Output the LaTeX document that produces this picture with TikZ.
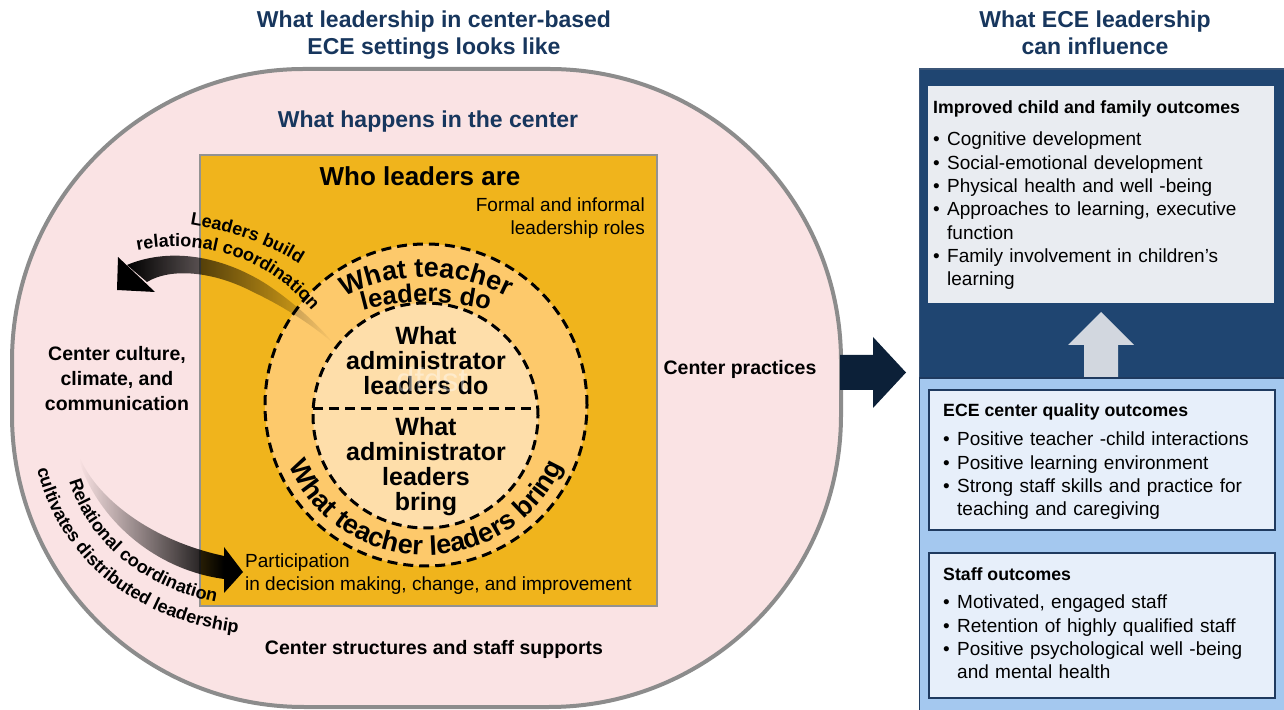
\documentclass[tikz,border=0pt]{standalone}
\usepackage{fontspec}
\setmainfont{Liberation Sans}
\usetikzlibrary{positioning,decorations.text,fadings}

\definecolor{titlenavy}{HTML}{17365D}
\definecolor{pinkbg}{HTML}{FAE3E4}
\definecolor{rimgray}{HTML}{8C8C8C}
\definecolor{gold}{HTML}{F0B41C}
\definecolor{boxedge}{HTML}{929292}
\definecolor{ringout}{HTML}{FDC96B}
\definecolor{ringin}{HTML}{FEDEAA}
\definecolor{panelnavy}{HTML}{1F4571}
\definecolor{panelblue}{HTML}{A4C8EF}
\definecolor{panelline}{HTML}{3B5577}
\definecolor{boxgray}{HTML}{E9ECF1}
\definecolor{boxblue}{HTML}{E7EFFA}
\definecolor{cardline}{HTML}{1F3A5F}
\definecolor{uparrow}{HTML}{D2D7DF}
\definecolor{darknavy}{HTML}{0C2038}

\newcommand{\fsz}[1]{\fontsize{#1}{#1}\selectfont}
\newcommand{\bitem}[1]{\hangindent=14pt\hangafter=1\noindent\makebox[14pt][l]{\textbullet}#1\par}

\begin{document}
\begin{tikzpicture}[x=1pt, y=1pt,
    ttl/.style = {font=\bfseries\fontsize{23}{27}\selectfont, text=titlenavy, align=center, inner sep=0},
    bold/.style = {font=\bfseries\fontsize{19.5}{25}\selectfont, align=center, inner sep=0},
    plain/.style = {font=\fontsize{19}{22.5}\selectfont, inner sep=0},
    big/.style = {font=\bfseries\fontsize{25}{25}\selectfont, align=center, inner sep=0},
    head/.style = {font=\bfseries\fontsize{17.7}{20}\selectfont, inner sep=0, anchor=base west},
    list/.style = {font=\fontsize{19}{23.3}\selectfont, text width=330pt, align=left, inner sep=0},
    ring/.style = {draw=black, line width=3pt, dash pattern=on 10pt off 6pt},
    card/.style = {draw=cardline, line width=1.5pt, fill=boxblue}]

    \fill[white] (0,0) rectangle (1284,709);
    \useasboundingbox (0,0) rectangle (1284,709);

    % titles
    \node[ttl] (lefttitle)  at (434,673.5) {What leadership in center-based\\ECE settings looks like};
    \node[ttl] (righttitle) at (1095,676)  {What ECE leadership\\can influence};

    % the center
    \draw[draw=rimgray, line width=4pt, fill=pinkbg, rounded corners=292pt] (12,2) rectangle (841,640);
    \draw[draw=boxedge, line width=1.5pt, fill=gold] (200,103) rectangle (657,554);
    \node[ring, fill=ringout, circle, minimum size=322pt, inner sep=0] (teachring) at (426,304) {};
    \node[ring, fill=ringin, circle, minimum size=225pt, inner sep=0] (adminring) at (425.5,293.5) {};
    \draw[ring] (313.2,300) -- (537.8,300);

    \node[ttl, font=\bfseries\fsz{23}, anchor=base] (happens) at (428,581) {What happens in the center};
    \node[big, font=\bfseries\fsz{26}, anchor=base] (who) at (420,523) {Who leaders are};
    \node[plain, align=right, anchor=north east] (roles) at (645,511) {Formal and informal\\leadership roles};
    \node[big, anchor=north] (admindo) at (426,383) {What\\administrator\\leaders do};
    \node[big, anchor=north] (adminbring) at (426,292) {What\\administrator\\leaders\\bring};
    \node[font=\fsz{33}, text=white, text opacity=0.4, inner sep=0, anchor=base] (stray) at (432,317) {dfdst};

    \path[decorate, decoration={text along path, text align=center,
        text={|\bfseries\fsz{27}|What teacher}}]
        (426,252) ++(145:180) arc[start angle=145, end angle=35, radius=180];
    \path[decorate, decoration={text along path, text align=center,
        text={|\bfseries\fsz{25.5}|leaders do}}]
        (426,167) ++(130:240) arc[start angle=130, end angle=50, radius=240];
    \path[decorate, decoration={text along path, text align=center,
        text={|\bfseries\fsz{27}|What teacher leaders bring}}]
        (426,304) ++(192:150) arc[start angle=192, end angle=348, radius=150];

    \node[bold, anchor=base] (practices) at (740,334) {Center practices};
    \node[bold, anchor=north] (culture) at (117,363) {Center culture,\\climate, and\\communication};
    \node[bold, anchor=base] (structures) at (434,54) {Center structures and staff supports};
    \node[plain, align=left, anchor=north west] (participation) at (245,155)
        {Participation\\in decision making, change, and improvement};

    % curved arrows
    \fill[black, path fading=east] (127,444) .. controls (165,460) and (215,456) .. (263,427)
        .. controls (290,410) and (318,385) .. (334,365)
        .. controls (315,382) and (285,402) .. (253,417)
        .. controls (215,437) and (172,442) .. (147,427) -- cycle;
    \fill[black] (118,452) -- (117,419) -- (155,417) -- cycle;
    \path[decorate, decoration={text along path, text align=center,
        text={|\bfseries\fsz{18}|Leaders build}}]
        (186,485) .. controls (230,478) and (268,466) .. (303,443);
    \path[decorate, decoration={text along path, text align=center,
        text={|\bfseries\fsz{18}|relational coordination}}]
        (134,458) .. controls (200,472) and (266,454) .. (314,396);

    \fill[black, path fading=west] (80,251) .. controls (95,215) and (145,170) .. (224,153)
        -- (224,130) .. controls (150,140) and (95,195) .. (79,249) -- cycle;
    \fill[black] (224,162) -- (243,137) -- (224,116) -- cycle;
    \path[decorate, decoration={text along path, text align=center,
        text={|\bfseries\fsz{18}|Relational coordination}}]
        (67,237) .. controls (81,175) and (136,120) .. (225,105);
    \path[decorate, decoration={text along path, text align=center,
        text={|\bfseries\fsz{18}|cultivates distributed leadership}}]
        (35,250) .. controls (53,157) and (128,87) .. (248,75);

    % what leadership can influence
    \draw[draw=panelline, line width=1.5pt, fill=panelnavy] (919.5,331) rectangle (1290,640);
    \draw[draw=cardline, line width=1.5pt, fill=panelblue] (919.5,-5) rectangle (1290,331);
    \fill[darknavy] (840,354) -- (873,354) -- (873,372) -- (906,336.5) -- (873,301) -- (873,319) -- (840,319) -- cycle;
    \fill[uparrow] (1084,332) -- (1084,364) -- (1068,364) -- (1101,397) -- (1134,364) -- (1118,364) -- (1118,332) -- cycle;

    \fill[boxgray] (928,406) rectangle (1274,623);
    \node[head] (kidhead) at (933,595) {Improved child and family outcomes};
    \node[list, below=18pt of kidhead.base west, anchor=north west] (kidlist)
        {\bitem{Cognitive development}
         \bitem{Social-emotional development}
         \bitem{Physical health and well -being}
         \bitem{Approaches to learning, executive\newline function}
         \bitem{Family involvement in children’s\newline learning}};

    \draw[card] (929,179) rectangle (1275,319);
    \node[head] (qualhead) at (943,292) {ECE center quality outcomes};
    \node[list, below=15pt of qualhead.base west, anchor=north west] (quallist)
        {\bitem{Positive teacher -child interactions}
         \bitem{Positive learning environment}
         \bitem{Strong staff skills and practice for\newline teaching and caregiving}};

    \draw[card] (929,11) rectangle (1275,156);
    \node[head] (staffhead) at (943,128) {Staff outcomes};
    \node[list, below=14pt of staffhead.base west, anchor=north west] (stafflist)
        {\bitem{Motivated, engaged staff}
         \bitem{Retention of highly qualified staff}
         \bitem{Positive psychological well -being\newline and mental health}};
\end{tikzpicture}
\end{document}
